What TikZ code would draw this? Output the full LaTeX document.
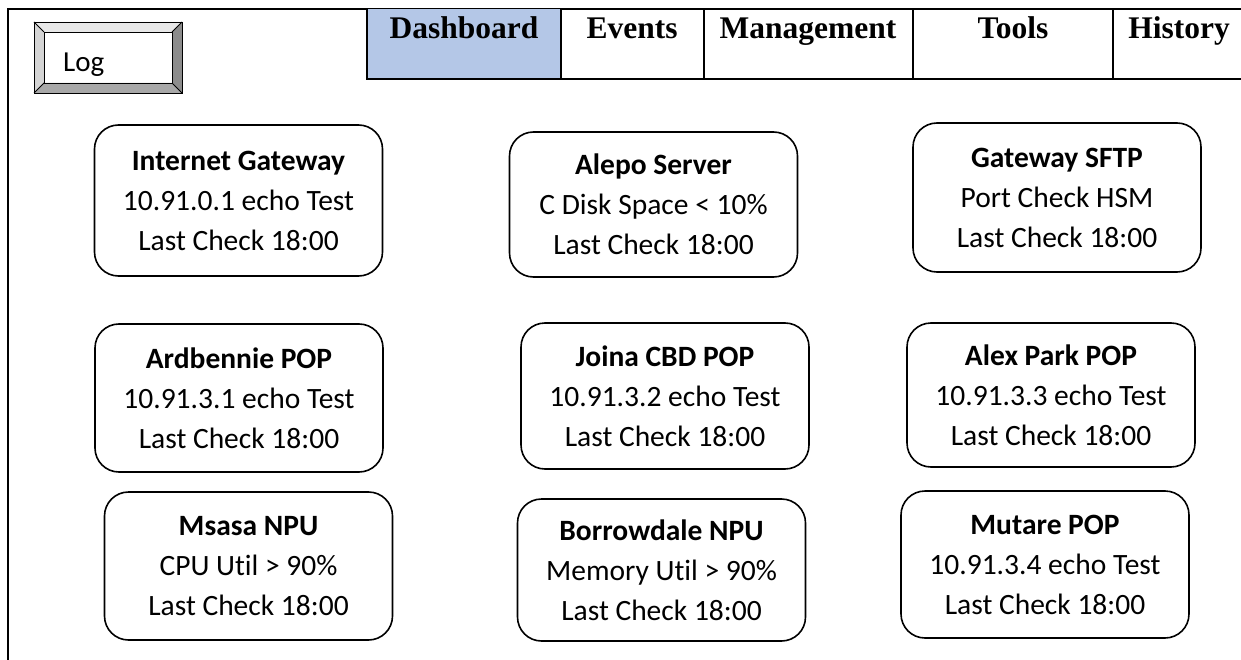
\documentclass[tikz,border=0pt]{standalone}
\usepackage{fontspec}
\setmainfont{Carlito}[Ligatures={NoCommon}]
\newfontfamily\tabfont{Liberation Serif}
\definecolor{tabblue}{HTML}{B4C7E7}
\definecolor{bevtop}{HTML}{E8E8E8}
\definecolor{bevleft}{HTML}{D4D4D4}
\definecolor{bevright}{HTML}{8C8C8C}
\definecolor{bevbot}{HTML}{A8A8A8}
\begin{document}
\begin{tikzpicture}[x=1pt,y=-1pt,
  card/.style={draw=black, line width=1.6pt, rounded corners=24pt, fill=white,
    align=center, inner sep=0pt, minimum width=288pt,
    font=\fontsize{29.5}{40}\selectfont},
  tabtext/.style={font=\tabfont\bfseries\fontsize{31.5}{36}\selectfont, anchor=base, inner sep=0pt},
  frame/.style={line width=2.6pt, black},
  bevel/.style={draw=black, line width=0.8pt}]
\useasboundingbox (0,0) rectangle (1241,660);
% outer frame
\draw[frame] (8,660) -- (8,9) -- (1241,9);
% tabs
\fill[tabblue] (367,9) rectangle (561,79);
\draw[frame] (367,9) -- (367,79) -- (1241,79);
\draw[frame] (561,9) -- (561,79);
\draw[frame] (704,9) -- (704,79);
\draw[frame] (913,9) -- (913,79);
\draw[frame] (1113,9) -- (1113,79);
\node[tabtext] (tdash) at (464,39) {Dashboard};
\node[tabtext] (tev) at (632,39) {Events};
\node[tabtext] (tman) at (808,39) {Management};
\node[tabtext] (ttools) at (1013,39) {Tools};
\node[tabtext] (thist) at (1179,39) {History};
% log button
\fill[bevtop] (34,22) -- (182,22) -- (172,32) -- (44,32) -- cycle;
\fill[bevleft] (34,22) -- (44,32) -- (44,83) -- (34,93) -- cycle;
\fill[bevright] (182,22) -- (182,93) -- (172,83) -- (172,32) -- cycle;
\fill[bevbot] (34,93) -- (182,93) -- (172,83) -- (44,83) -- cycle;
\draw[bevel] (34,22) rectangle (182,93);
\draw[bevel] (44,32) rectangle (172,83);
\draw[bevel] (34,22) -- (44,32) (182,22) -- (172,32) (182,93) -- (172,83) (34,93) -- (44,83);
\node[font=\fontsize{29}{34}\selectfont, anchor=base west, inner sep=0pt] (log) at (63,72) {Log};
% cards
\node[card, minimum height=151pt] (ig) at (238.5,200.5) {\textbf{Internet Gateway}\\10.91.0.1 echo Test\\Last Check 18:00};
\node[card, minimum height=145pt] (al) at (653.5,204.5) {\textbf{Alepo Server}\\C Disk Space < 10\%\\Last Check 18:00};
\node[card, minimum height=149pt] (sf) at (1057,197.5) {\textbf{Gateway SFTP}\\Port Check HSM\\Last Check 18:00};
\node[card, minimum height=148pt] (ar) at (239,398) {\textbf{Ardbennie POP}\\10.91.3.1 echo Test\\Last Check 18:00};
\node[card, minimum height=146pt] (jo) at (665,396) {\textbf{Joina CBD POP}\\10.91.3.2 echo Test\\Last Check 18:00};
\node[card, minimum height=144pt] (ap) at (1051,395) {\textbf{Alex Park POP}\\10.91.3.3 echo Test\\Last Check 18:00};
\node[card, minimum height=148pt] (ms) at (248.5,566) {\textbf{Msasa NPU}\\CPU Util > 90\%\\Last Check 18:00};
\node[card, minimum height=142pt] (bo) at (661.5,570) {\textbf{Borrowdale NPU}\\Memory Util > 90\%\\Last Check 18:00};
\node[card, minimum height=147pt] (mu) at (1045,564.5) {\textbf{Mutare POP}\\10.91.3.4 echo Test\\Last Check 18:00};
\end{tikzpicture}
\end{document}
